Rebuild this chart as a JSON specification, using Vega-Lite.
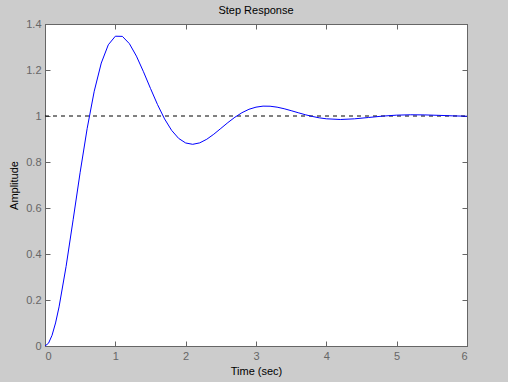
{
  "$schema": "https://vega.github.io/schema/vega-lite/v6.json",
  "autosize": "none",
  "width": 422,
  "height": 322,
  "padding": {"left": 45, "top": 24, "right": 41, "bottom": 36},
  "background": "#cccccc",
  "title": {"text": "Step Response", "fontSize": 11, "font": "Liberation Sans", "fontWeight": "normal", "color": "#000000", "offset": 2},
  "config": {
    "view": {"fill": "#ffffff", "stroke": "#666666", "strokeWidth": 1},
    "axis": {"grid": false, "domainColor": "#666666", "tickColor": "#666666", "labelColor": "#666666", "labelFont": "Liberation Sans", "labelFontSize": 11, "titleFont": "Liberation Sans", "titleFontSize": 11, "titleFontWeight": "normal", "titleColor": "#000000", "tickSize": -5, "domain": true, "format": "~g"}
  },
  "datasets": {
    "resp": [
      {"t": 0, "y": 0}, {"t": 0.05, "y": 0.0121}, {"t": 0.1, "y": 0.0464}, {"t": 0.15, "y": 0.1002}, {"t": 0.2, "y": 0.1702}, {"t": 0.3, "y": 0.3461},
      {"t": 0.4, "y": 0.5488}, {"t": 0.5, "y": 0.7554}, {"t": 0.6, "y": 0.9465}, {"t": 0.7, "y": 1.1078},
      {"t": 0.8, "y": 1.2302}, {"t": 0.9, "y": 1.3096}, {"t": 1.0, "y": 1.3469}, {"t": 1.1, "y": 1.3462},
      {"t": 1.2, "y": 1.3145}, {"t": 1.3, "y": 1.2603}, {"t": 1.4, "y": 1.1925}, {"t": 1.5, "y": 1.1197},
      {"t": 1.6, "y": 1.0494}, {"t": 1.7, "y": 0.9873}, {"t": 1.8, "y": 0.9377}, {"t": 1.9, "y": 0.9026},
      {"t": 2.0, "y": 0.8827}, {"t": 2.1, "y": 0.8769}, {"t": 2.2, "y": 0.8832}, {"t": 2.3, "y": 0.8989},
      {"t": 2.4, "y": 0.9208}, {"t": 2.5, "y": 0.9459}, {"t": 2.6, "y": 0.9713}, {"t": 2.7, "y": 0.9946},
      {"t": 2.8, "y": 1.0143}, {"t": 2.9, "y": 1.0292}, {"t": 3.0, "y": 1.0385}, {"t": 3.1, "y": 1.0429},
      {"t": 3.2, "y": 1.0425}, {"t": 3.3, "y": 1.0384}, {"t": 3.4, "y": 1.0316}, {"t": 3.5, "y": 1.0232},
      {"t": 3.6, "y": 1.0142}, {"t": 3.7, "y": 1.0056}, {"t": 3.8, "y": 0.9981}, {"t": 3.9, "y": 0.992},
      {"t": 4.0, "y": 0.9878}, {"t": 4.2, "y": 0.9848}, {"t": 4.4, "y": 0.9877}, {"t": 4.6, "y": 0.9935},
      {"t": 4.8, "y": 0.9995}, {"t": 5.0, "y": 1.0037}, {"t": 5.2, "y": 1.0053}, {"t": 5.4, "y": 1.0047},
      {"t": 5.6, "y": 1.0028}, {"t": 5.8, "y": 1.0006}, {"t": 6.0, "y": 0.999}
    ],
    "ref": [{"t": 0, "y": 1}, {"t": 6, "y": 1}]
  },
  "layer": [
    {
      "data": {"name": "ref"},
      "mark": {"type": "line", "color": "#000000", "strokeWidth": 1, "strokeDash": [4, 4]},
      "encoding": {
        "x": {"field": "t", "type": "quantitative", "scale": {"domain": [0, 6], "nice": false}, "axis": {"title": "Time (sec)", "values": [0, 1, 2, 3, 4, 5, 6], "labelPadding": 9, "titlePadding": 4}},
        "y": {"field": "y", "type": "quantitative", "scale": {"domain": [0, 1.4], "nice": false}, "axis": {"title": "Amplitude", "values": [0, 0.2, 0.4, 0.6, 0.8, 1, 1.2, 1.4], "labelPadding": 9, "titlePadding": 6}}
      }
    },
    {
      "data": {"name": "resp"},
      "mark": {"type": "line", "color": "#0000ff", "strokeWidth": 1},
      "encoding": {
        "x": {"field": "t", "type": "quantitative", "axis": {"orient": "top", "labels": false, "title": null, "values": [0, 1, 2, 3, 4, 5, 6]}},
        "y": {"field": "y", "type": "quantitative", "axis": {"orient": "right", "labels": false, "title": null, "values": [0, 0.2, 0.4, 0.6, 0.8, 1, 1.2, 1.4]}}
      }
    }
  ],
  "resolve": {"axis": {"x": "independent", "y": "independent"}}
}
